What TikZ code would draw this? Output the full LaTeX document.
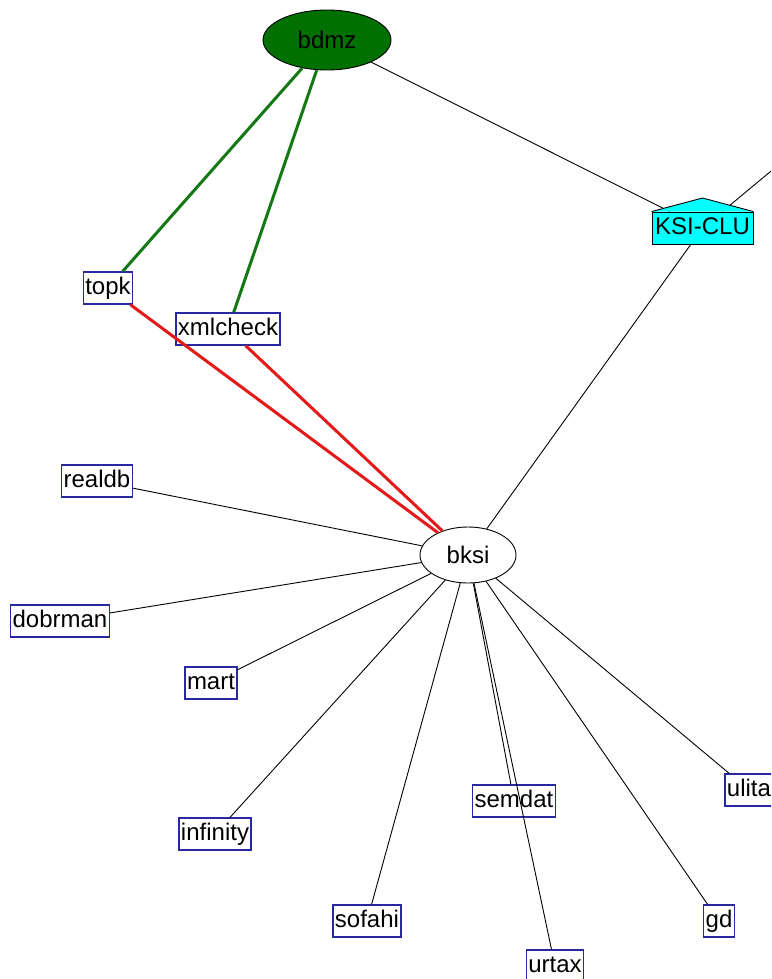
\documentclass[tikz,border=0pt]{standalone}
\usepackage{fontspec}
\setmainfont{Liberation Sans}
\usetikzlibrary{shapes.geometric}
\definecolor{boxblue}{RGB}{40,40,160}
\definecolor{dgreen}{RGB}{0,112,0}
\definecolor{lgreen}{RGB}{20,120,20}
\definecolor{ered}{RGB}{230,25,25}
\definecolor{kcyan}{RGB}{0,255,255}
\tikzset{
  lbl/.style={draw=boxblue, line width=1.3pt, fill=white, rectangle, inner xsep=2pt, inner ysep=0pt, text height=17pt, text depth=5pt, minimum height=32pt, font=\fontsize{24}{28}\selectfont},
  oval/.style={ellipse, draw=black, line width=0.9pt, inner sep=0pt, font=\fontsize{24}{28}\selectfont},
  housebody/.style={rectangle, draw=black, line width=0.9pt, fill=kcyan, inner sep=0pt, minimum width=101pt, minimum height=32pt, text height=17pt, text depth=5pt, font=\fontsize{24}{28}\selectfont},
  roof/.style={draw=black, line width=0.9pt, fill=kcyan, line join=miter},
  thin edge/.style={draw=black, line width=0.9pt},
  green edge/.style={draw=lgreen, line width=3pt},
  red edge/.style={draw=ered, line width=3pt}
}
\begin{document}
\begin{tikzpicture}[x=1pt,y=-1pt]
\useasboundingbox (0,0) rectangle (771,979);
\clip (0,0) rectangle (771,979);
% nodes
\node[oval, fill=dgreen, minimum width=128pt, minimum height=60pt] (bdmz) at (327,40) {bdmz};
\node[housebody] (ksi) at (702.5,228) {KSI-CLU};
\coordinate (peak) at (702.5,198);
\coordinate (off) at (800,147);
\node[oval, fill=white, minimum width=96pt, minimum height=56pt] (bksi) at (468,555) {bksi};
\node[lbl] (topk) at (108,288) {topk};
\node[lbl] (xmlcheck) at (228,329) {xmlcheck};
\node[lbl] (realdb) at (97,481) {realdb};
\node[lbl] (dobrman) at (60,621) {dobrman};
\node[lbl] (mart) at (211,683) {mart};
\node[lbl] (infinity) at (215,834) {infinity};
\node[lbl] (sofahi) at (367,921) {sofahi};
\node[lbl] (semdat) at (514,801) {semdat};
\node[lbl] (urtax) at (555,966) {urtax};
\node[lbl] (gd) at (719,921) {gd};
\node[lbl] (ulita) at (749,790) {ulita};
% edges
\draw[thin edge] (bdmz) -- (ksi);
\draw[thin edge] (ksi) -- (off);
\draw[thin edge] (ksi) -- (bksi);
\draw[green edge] (bdmz) -- (topk);
\draw[green edge] (bdmz) -- (xmlcheck);
\draw[red edge] (topk) -- (bksi);
\draw[red edge] (xmlcheck) -- (bksi);
\draw[thin edge] (bksi) -- (realdb);
\draw[thin edge] (bksi) -- (dobrman);
\draw[thin edge] (bksi) -- (mart);
\draw[thin edge] (bksi) -- (infinity);
\draw[thin edge] (bksi) -- (sofahi);
\draw[thin edge] (bksi) -- (semdat);
\draw[thin edge] (bksi) -- (urtax);
\draw[thin edge] (bksi) -- (gd);
\draw[thin edge] (bksi) -- (ulita);
% roof of KSI-CLU
\draw[roof] (ksi.north west) -- (peak) -- (ksi.north east);
\end{tikzpicture}
\end{document}
